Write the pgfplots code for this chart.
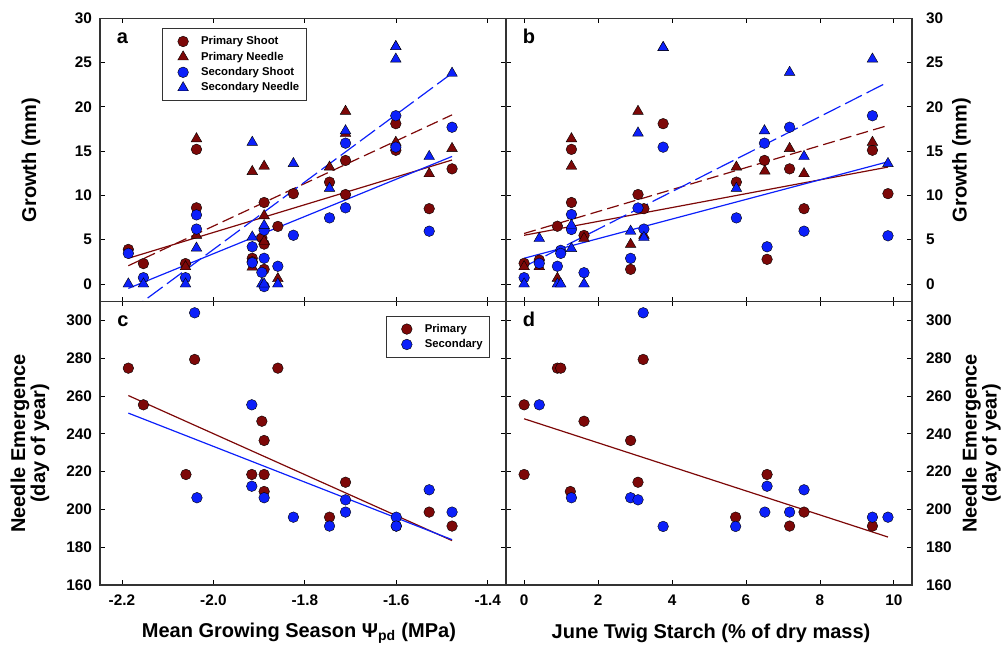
\documentclass[border=0pt]{standalone}
\usepackage{fontspec}
\setmainfont{Liberation Sans}
\usepackage{pgfplots}
\pgfplotsset{compat=1.18}

\definecolor{pri}{RGB}{125,8,8}
\definecolor{sec}{RGB}{12,32,250}

\pgfplotsset{
  panel/.style={
    scale only axis, width=304.5pt, height=212.5pt,
    tick align=inside, major tick length=3.5pt,
    xtick pos=both, ytick pos=both,
    axis line style={line width=0.9pt, black!80},
    every tick/.style={black, line width=0.6pt},
    tick label style={font=\fontsize{11.5}{13}\selectfont\bfseries},
    label style={font=\fontsize{15}{15}\selectfont\bfseries},
    /pgf/number format/assume math mode=true,
    xticklabel style={yshift=-4pt},
    legend cell align=left,
    legend style={draw=black!80, line width=0.6pt,
      font=\fontsize{8.5}{10}\selectfont\bfseries,
      inner xsep=3.5pt, inner ysep=4.5pt, row sep=1.3pt,
      nodes={inner ysep=1.3pt, inner xsep=1.5pt}},
  },
  wideleg/.style={legend image code/.code={
      \draw[mark repeat=2, mark phase=2, ##1, draw=none] plot coordinates {(0cm,0cm) (0.42cm,0cm) (0.84cm,0cm)};}},
  ptop/.style={ymin=-2, ymax=30, ytick={0,5,...,30}},
  pbot/.style={ymin=160, ymax=310, ytick={160,180,...,300}},
  pleft/.style={xmin=-2.248, xmax=-1.36, xtick={-2.2,-2.0,-1.8,-1.6,-1.4}},
  pright/.style={xmin=-0.49, xmax=10.49, xtick={0,2,...,10}},
  lefty/.style={yticklabel pos=left, yticklabel style={xshift=-2.5pt},
    ylabel style={at={(axis description cs:#1,0.5)}, anchor=center}},
  righty/.style={yticklabel pos=right, yticklabel style={xshift=7pt},
    ylabel style={at={(axis description cs:#1,0.5)}, anchor=center}},
  pshoot/.style={draw=none, wideleg, mark=*, mark size=4pt,
    mark options={fill=pri, draw=black, line width=0.3pt}},
  pneedle/.style={draw=none, wideleg, mark=triangle*, mark size=4.6pt,
    mark options={fill=pri, draw=black, line width=0.3pt}},
  sshoot/.style={draw=none, wideleg, mark=*, mark size=4pt,
    mark options={fill=sec, draw=black, line width=0.3pt}},
  sneedle/.style={draw=none, wideleg, mark=triangle*, mark size=4.6pt,
    mark options={fill=sec, draw=black, line width=0.3pt}},
  fitp/.style={no marks, pri, line width=0.9pt, forget plot},
  fits/.style={no marks, sec, line width=0.9pt, forget plot},
}

\begin{document}
\begin{tikzpicture}
\path[use as bounding box] (-75pt,-46.5pt) rectangle (678pt,438.75pt);

% ---------- a ----------
\begin{axis}[panel, ptop, pleft, lefty=-0.170,
  at={(0pt,212.5pt)}, anchor=south west,
  xticklabels={},
  ylabel={Growth (mm)},
  legend style={at={(0.153,0.965)}, anchor=north west}]
\addplot[pshoot] coordinates {
 (-2.186,3.9) (-2.153,2.3) (-2.061,2.3) (-2.037,15.2) (-2.037,8.6)
 (-1.915,2.9) (-1.915,2.5) (-1.894,5.2) (-1.889,9.2) (-1.889,4.5)
 (-1.889,1.65) (-1.859,6.5) (-1.825,10.2) (-1.746,11.5) (-1.711,13.95)
 (-1.711,10.1) (-1.601,18.1) (-1.601,15.1) (-1.528,8.5) (-1.478,13.0)};
\addlegendentry{Primary Shoot}
\addplot[pneedle] coordinates {
 (-2.061,1.95) (-2.037,16.4) (-2.037,5.5) (-1.915,12.7) (-1.915,1.9)
 (-1.889,13.3) (-1.889,7.7) (-1.889,4.8) (-1.859,0.6) (-1.746,13.2)
 (-1.711,19.5) (-1.711,17.0) (-1.601,26.8) (-1.601,16.0) (-1.528,12.45)
 (-1.478,15.3)};
\addlegendentry{Primary Needle}
\addplot[sshoot] coordinates {
 (-2.186,3.45) (-2.153,0.71) (-2.061,0.71) (-2.037,7.8) (-2.037,6.2)
 (-1.915,4.2) (-1.915,2.4) (-1.894,1.3) (-1.889,6.07) (-1.889,2.9)
 (-1.889,-0.3) (-1.859,2.0) (-1.825,5.5) (-1.746,7.46) (-1.711,15.9)
 (-1.711,8.6) (-1.601,19.0) (-1.601,15.45) (-1.528,5.96) (-1.478,17.7)};
\addlegendentry{Secondary Shoot}
\addplot[sneedle] coordinates {
 (-2.186,0) (-2.153,0) (-2.061,0) (-2.037,4.05) (-1.915,16.0)
 (-1.915,5.3) (-1.894,0) (-1.889,6.6) (-1.889,0) (-1.859,0)
 (-1.825,13.6) (-1.746,10.8) (-1.711,17.3) (-1.601,26.8) (-1.601,25.4)
 (-1.528,14.4) (-1.478,23.8)};
\addlegendentry{Secondary Needle}
\addplot[fitp] coordinates {(-2.186,2.9) (-1.478,14.0)};
\addplot[fitp, dash pattern=on 9pt off 4pt] coordinates {(-2.186,2.06) (-1.478,19.1)};
\addplot[fits] coordinates {(-2.186,-0.5) (-1.478,14.4)};
\addplot[fits, dash pattern=on 14pt off 4pt] coordinates {(-2.186,-3.2) (-1.478,23.8)};
\node[anchor=base west, font=\fontsize{15}{17}\selectfont\bfseries] at (rel axis cs:0.030,0.911) {a};
\end{axis}

% ---------- b ----------
\begin{axis}[panel, ptop, pright, righty=1.1215,
  at={(304.5pt,212.5pt)}, anchor=south west,
  xticklabels={},
  ylabel={Growth (mm)}]
\addplot[pshoot] coordinates {
 (0,2.33) (0.41,2.7) (0.90,6.52) (1.28,15.2) (1.28,9.2) (1.62,5.48)
 (2.88,1.65) (3.08,10.1) (3.24,8.5) (3.76,18.1) (5.74,11.5) (6.5,13.95)
 (6.57,2.78) (7.18,13.0) (7.57,8.5) (9.42,15.1) (9.84,10.2)};
\addplot[pneedle] coordinates {
 (0,1.95) (0.41,1.95) (0.90,0.64) (1.28,16.4) (1.28,13.3) (1.62,5.14)
 (2.88,4.47) (3.08,19.5) (3.24,5.5) (3.76,26.7) (5.74,13.2) (6.51,12.75)
 (7.18,15.3) (7.57,12.45) (9.42,16.0)};
\addplot[sshoot] coordinates {
 (0,0.71) (0.41,2.33) (0.90,2.0) (0.99,3.8) (0.99,3.45) (1.28,7.84)
 (1.28,6.15) (1.62,1.27) (2.88,2.89) (3.08,8.58) (3.24,6.2) (3.76,15.45)
 (5.74,7.46) (6.5,15.9) (6.57,4.2) (7.18,17.7) (7.57,5.96) (9.42,19.0)
 (9.84,5.44)};
\addplot[sneedle] coordinates {
 (0,0) (0.41,5.14) (0.90,0) (0.99,0) (1.28,6.64) (1.28,4.0) (1.62,0)
 (2.88,5.96) (3.08,17.05) (3.24,5.25) (3.76,26.7) (5.74,10.8) (6.5,17.3)
 (7.18,23.9) (7.57,14.4) (9.42,25.4) (9.84,13.6)};
\addplot[fitp] coordinates {(0,5.5) (9.84,13.2)};
\addplot[fitp, dash pattern=on 9pt off 4pt] coordinates {(0,5.7) (9.84,17.9)};
\addplot[fits] coordinates {(0,2.9) (9.84,13.8)};
\addplot[fits, dash pattern=on 14pt off 4pt] coordinates {(0,1.95) (9.84,22.8)};
\node[anchor=base west, font=\fontsize{15}{17}\selectfont\bfseries] at (rel axis cs:0.030,0.911) {b};
\end{axis}

% ---------- c ----------
\begin{axis}[panel, pbot, pleft, lefty=-0.1724,
  at={(0pt,0pt)}, anchor=south west,
  xticklabels={-2.2,-2.0,-1.8,-1.6,-1.4},
  ylabel={Needle Emergence\\(day of year)}, ylabel style={align=center},
  xlabel={Mean Growing Season Ψ\textsubscript{pd} (MPa)},
  xlabel style={at={(axis description cs:0.49,0)}, anchor=center, yshift=-36pt},
  legend style={at={(0.704,0.95)}, anchor=north west}]
\addplot[pshoot] coordinates {
 (-2.186,274.8) (-2.153,255.4) (-2.041,279.4) (-2.060,218.5) (-1.859,274.8)
 (-1.894,246.7) (-1.889,236.5) (-1.916,218.5) (-1.889,218.5) (-1.889,209.5)
 (-1.746,195.9) (-1.711,214.4) (-1.600,191.2) (-1.528,198.6) (-1.478,191.2)};
\addlegendentry{Primary}
\addplot[sshoot] coordinates {
 (-2.041,304.1) (-2.036,206.2) (-1.916,255.4) (-1.916,212.3) (-1.889,206.2)
 (-1.825,195.9) (-1.746,191.2) (-1.711,205.1) (-1.711,198.6) (-1.600,195.9)
 (-1.600,191.2) (-1.528,210.4) (-1.478,198.6)};
\addlegendentry{Secondary}
\addplot[fitp] coordinates {(-2.186,260.3) (-1.478,183.5)};
\addplot[fits] coordinates {(-2.186,251) (-1.478,184)};
\node[anchor=base west, font=\fontsize{15}{17}\selectfont\bfseries] at (rel axis cs:0.031,0.914) {c};
\end{axis}

% ---------- d ----------
\begin{axis}[panel, pbot, pright, righty=1.171,
  at={(304.5pt,0pt)}, anchor=south west,
  ylabel={Needle Emergence\\(day of year)}, ylabel style={align=center},
  xlabel={June Twig Starch (\% of dry mass)},
  xlabel style={at={(axis description cs:0.505,0)}, anchor=center, yshift=-36pt}]
\addplot[pshoot] coordinates {
 (0,255.4) (0,218.5) (0.90,274.8) (0.99,274.8) (1.62,246.7) (1.25,209.5)
 (2.88,236.5) (3.08,214.4) (3.22,279.4) (5.72,195.9) (6.57,218.5)
 (7.18,191.2) (7.57,198.6) (9.42,191.2)};
\addplot[sshoot] coordinates {
 (0.41,255.4) (1.28,206.2) (2.88,206.2) (3.08,205.1) (3.22,304.1)
 (3.76,191.0) (5.72,191.0) (6.57,212.3) (6.51,198.6) (7.18,198.6)
 (7.57,210.4) (9.42,195.9) (9.84,195.9)};
\addplot[fitp] coordinates {(0,248) (9.84,185.4)};
\node[anchor=base west, font=\fontsize{15}{17}\selectfont\bfseries] at (rel axis cs:0.030,0.914) {d};
\end{axis}
\end{tikzpicture}
\end{document}
